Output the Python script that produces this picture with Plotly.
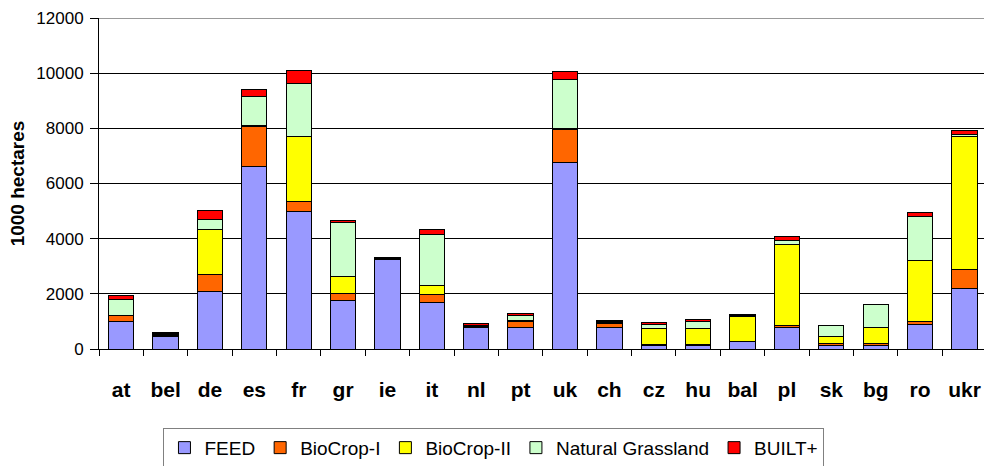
import plotly.graph_objects as go

categories = ["at", "bel", "de", "es", "fr", "gr", "ie", "it", "nl", "pt",
              "uk", "ch", "cz", "hu", "bal", "pl", "sk", "bg", "ro", "ukr"]

feed = [1000, 470, 2070, 6630, 4970, 1750, 3240, 1690, 780, 790,
        6750, 790, 140, 140, 260, 790, 145, 145, 880, 2180]
biocrop1 = [210, 30, 630, 1450, 380, 250, 20, 280, 30, 200,
            1220, 150, 20, 20, 10, 60, 65, 60, 120, 700]
biocrop2 = [20, 20, 1630, 20, 2360, 640, 10, 330, 20, 50,
            20, 20, 570, 580, 900, 2940, 250, 580, 2205, 4840]
grassland = [580, 30, 360, 1070, 1920, 1960, 30, 1860, 40, 180,
             1780, 20, 150, 250, 30, 130, 400, 825, 1610, 40]
built = [120, 50, 340, 225, 450, 70, 30, 170, 50, 60,
         290, 50, 80, 70, 50, 145, 10, 10, 120, 170]

series = [
    ("FEED", feed, "#9999FF"),
    ("BioCrop-I", biocrop1, "#FF6600"),
    ("BioCrop-II", biocrop2, "#FFFF00"),
    ("Natural Grassland", grassland, "#CCFFCC"),
    ("BUILT+", built, "#FF0000"),
]

y_ticks = [0, 2000, 4000, 6000, 8000, 10000, 12000]

FONT = "Liberation Sans, Arial"

fig = go.Figure()
for name, vals, color in series:
    fig.add_trace(go.Bar(
        x=categories, y=vals, name=name,
        marker=dict(color=color, line=dict(color="black", width=1)),
        width=0.57,
    ))

fig.update_layout(
    barmode="stack",
    width=984, height=466,
    margin=dict(l=99, r=0, t=18, b=117, autoexpand=False),
    paper_bgcolor="white",
    plot_bgcolor="white",
    font=dict(family=FONT, color="black"),
    showlegend=True,
    legend=dict(
        orientation="h",
        xref="container", x=0.502, xanchor="center",
        yref="container", y=0.082, yanchor="top",
        bordercolor="#808080", borderwidth=1,
        font=dict(size=19, family=FONT, color="black"),
        traceorder="normal",
        itemwidth=30,
    ),
)

fig.update_xaxes(
    range=[-0.5, 19.44],
    tickson="boundaries",
    ticks="outside", ticklen=6, tickcolor="black",
    showline=True, linecolor="black", linewidth=1,
    tickfont=dict(size=21, family=FONT, color="black", weight="bold"),
    ticklabelstandoff=22,
    showgrid=False,
    automargin=False,
)

fig.update_yaxes(
    range=[0, 12000],
    tickvals=y_ticks,
    ticktext=[str(v) for v in y_ticks],
    ticks="outside", ticklen=8, tickcolor="black",
    showline=True, linecolor="black", linewidth=1,
    showgrid=True, gridcolor="black", gridwidth=1,
    tickfont=dict(size=17, family=FONT, color="black"),
    ticklabelstandoff=3,
    title=dict(text="<b>1000 hectares</b>", font=dict(size=19, family=FONT, color="black"), standoff=6),
    zeroline=False,
    automargin=False,
)

fig.add_shape(type="line", xref="paper", yref="y", x0=0, x1=1, y0=12000, y1=12000,
              line=dict(color="#999999", width=2))

fig.write_html("out.html", config={"displayModeBar": False},
               post_script="document.body.style.margin='0';")
